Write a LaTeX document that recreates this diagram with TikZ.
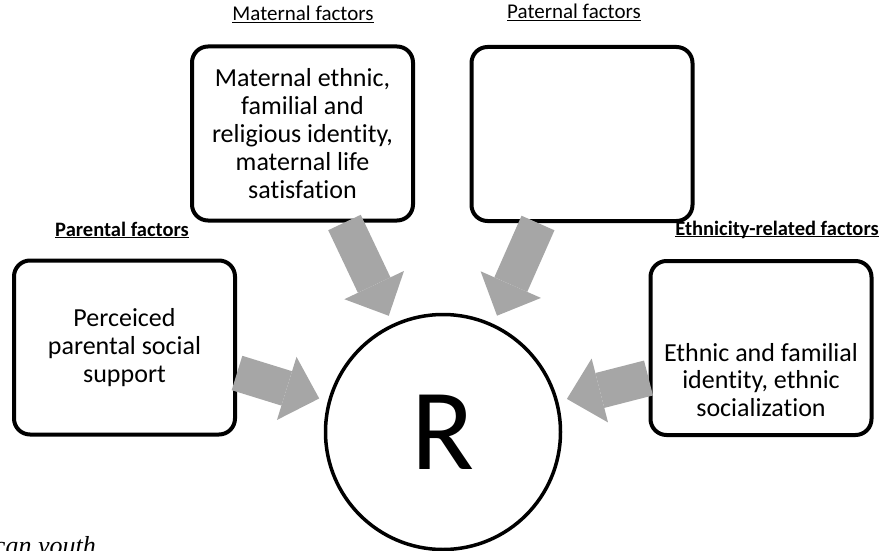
\documentclass[tikz,border=0pt]{standalone}
\usepackage{fontspec}
\setmainfont{Carlito}[RawFeature={-liga;-dlig;-clig}]
\newfontfamily\captionserif{Liberation Serif}
\usetikzlibrary{arrows.meta,calc}
\definecolor{arrowgray}{RGB}{166,166,166}
\newcommand{\ulabel}[1]{\underline{\smash{#1}}}
\begin{document}
\begin{tikzpicture}[x=1pt,y=-1pt,
  factorbox/.style={draw, line width=4pt, rounded corners=16pt, fill=white,
    minimum width=221pt, minimum height=174pt, inner sep=0pt},
  boxtext/.style={font=\fontsize{26}{27.8}\selectfont, align=center, inner sep=0pt},
  factorlabel/.style={font=\fontsize{21}{22}\selectfont, inner sep=0pt},
  boldlabel/.style={factorlabel, font=\fontsize{20.5}{22}\selectfont\bfseries},
  rnode/.style={circle, draw, line width=3.5pt, minimum size=235pt, inner sep=0pt,
    font=\fontsize{116}{116}\selectfont},
  blockarrow/.style={draw=arrowgray, line width=36pt,
    -{Triangle[length=34pt, width=66pt, line width=0pt, fill=arrowgray]}, shorten >=9pt}
]
\useasboundingbox (0,0) rectangle (887,551);
\clip (0,0) rectangle (887,551);

% boxes
\node[factorbox] (mat) at (302.5,133.5) {};
\node[factorbox] (pat) at (582,134) {};
\node[factorbox] (par) at (124.5,347.5) {};
\node[factorbox] (eth) at (761,348) {};
\node[rnode] (R) at (443,432) {R};

% box texts
\node[boxtext] (mattext) at (mat.center) {Maternal ethnic,\\familial and\\religious identity,\\maternal life\\satisfation};
\node[boxtext] (partext) at (par.center) {Perceiced\\parental social\\support};
\node[boxtext] (ethtext) at ([yshift=-32pt]eth.center) {Ethnic and familial\\identity, ethnic\\socialization};

% labels
\node[factorlabel] (matlab) at (303,22) {\ulabel{Maternal factors}};
\node[factorlabel] (patlab) at (574,20) {\ulabel{Paternal factors}};
\node[boldlabel] (parlab) at (122,237) {\ulabel{Parental factors}};
\node[boldlabel] (ethlab) at (777,236) {\ulabel{Ethnicity-related factors}};

% arrows
\draw[blockarrow] ([xshift=42pt]mat.south) -- (R.115);
\draw[blockarrow] ([xshift=-44pt]pat.south) -- (R.65);
\draw[blockarrow] ([yshift=-25.5pt]par.east) -- (R.165);
\draw[blockarrow] ([yshift=-30pt]eth.west) -- (R.15);

% cropped caption fragment
\node[anchor=base east, inner sep=0pt, font=\captionserif\itshape\fontsize{26}{26}\selectfont] (captxt) at (96,554) {can youth};
\end{tikzpicture}
\end{document}
